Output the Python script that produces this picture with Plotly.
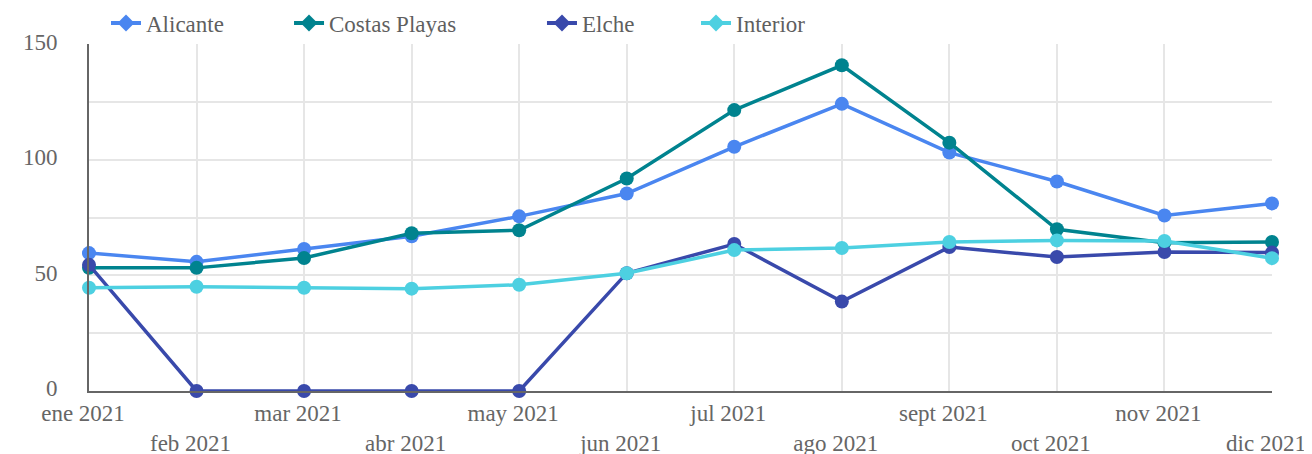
import plotly.graph_objects as go

months = ["ene 2021", "feb 2021", "mar 2021", "abr 2021", "may 2021", "jun 2021",
          "jul 2021", "ago 2021", "sept 2021", "oct 2021", "nov 2021", "dic 2021"]

alicante = [59.7, 55.9, 61.5, 67.0, 75.6, 85.5, 105.7, 124.3, 103.2, 90.7, 76.0, 81.2]
costas_playas = [53.3, 53.3, 57.6, 68.3, 69.6, 92.0, 121.6, 141.0, 107.5, 70.0, 64.2, 64.5]
elche = [54.6, 0, 0, 0, 0, 51.0, 63.6, 38.7, 62.3, 58.0, 60.2, 59.9]
interior = [44.7, 45.1, 44.7, 44.3, 46.0, 51.0, 61.0, 61.9, 64.5, 65.2, 64.9, 57.5]

series = [
    ("Alicante", alicante, "#4a86f0"),
    ("Costas Playas", costas_playas, "#00838f"),
    ("Elche", elche, "#3949ab"),
    ("Interior", interior, "#4dd0e1"),
]
legend_x = [0.0747, 0.2142, 0.4070, 0.5244]

x = list(range(len(months)))
ticktext = [m if i % 2 == 0 else "<br>" + m for i, m in enumerate(months)]

font_family = "Liberation Serif, Times New Roman, serif"

fig = go.Figure()
for name, vals, color in series:
    fig.add_trace(go.Scatter(
        x=x, y=vals, name=name, mode="lines+markers",
        line=dict(color=color, width=3.5),
        marker=dict(size=14, color=color),
        cliponaxis=False, showlegend=False,
    ))

legend_layout = {}
for i, (name, vals, color) in enumerate(series):
    key = "legend" if i == 0 else f"legend{i + 1}"
    fig.add_trace(go.Scatter(
        x=[None], y=[None], name=name, mode="lines+markers",
        line=dict(color=color, width=4),
        marker=dict(size=13, color=color, symbol="diamond"),
        showlegend=True, legend=key,
    ))
    legend_layout[key] = dict(
        orientation="h", xref="container", yref="container",
        x=legend_x[i], xanchor="left", y=0.967, yanchor="middle",
        font=dict(size=23, color="#5f5f5f", family=font_family),
        bgcolor="rgba(0,0,0,0)",
    )

fig.update_layout(
    width=1312, height=454,
    margin=dict(l=81, r=48, t=34, b=71),
    plot_bgcolor="white", paper_bgcolor="white",
    font=dict(family=font_family, size=23, color="#666666"),
    showlegend=True,
    xaxis=dict(
        range=[0, 11], tickvals=x, ticktext=ticktext,
        showgrid=True, gridcolor="#e6e6e6", gridwidth=2,
        showline=True, linecolor="#666666", linewidth=2,
        zeroline=False, tickfont=dict(size=23, color="#666666"),
        ticks="", ticklabelshift=-6, fixedrange=True, automargin=False,
    ),
    yaxis=dict(
        range=[0, 150],
        tickvals=[0, 25, 50, 75, 100, 125, 150],
        ticktext=["0", "", "50", "", "100", "", "150"],
        showgrid=True, gridcolor="#e6e6e6", gridwidth=2,
        showline=True, linecolor="#666666", linewidth=2,
        zeroline=False, tickfont=dict(size=23, color="#666666"),
        ticks="", ticklabelstandoff=25, ticklabelshift=-3, automargin=False,
    ),
    **legend_layout,
)

fig.write_html("out.html")
